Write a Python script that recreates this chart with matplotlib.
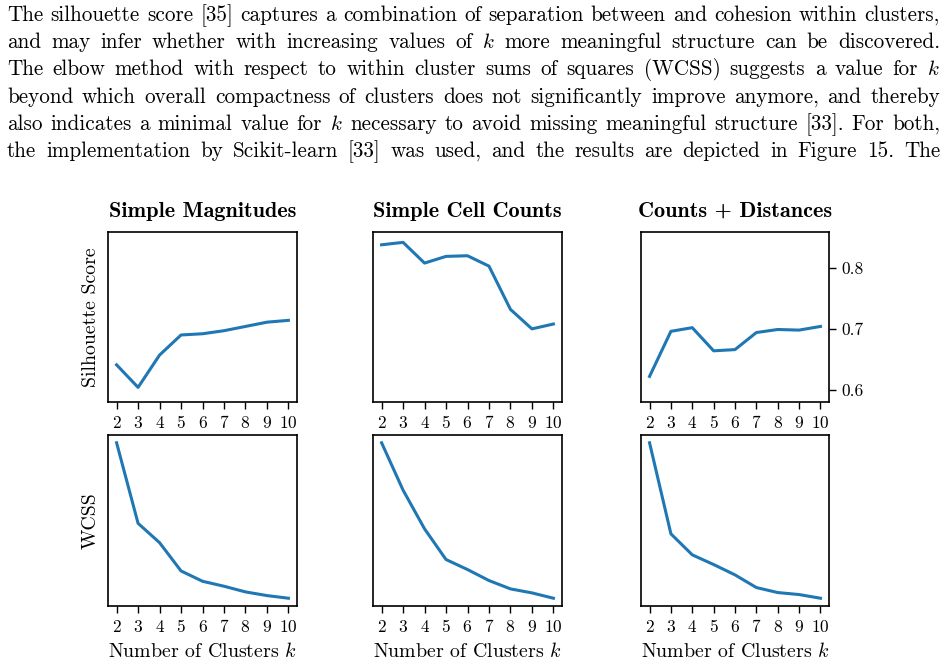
import matplotlib
matplotlib.use("Agg")
import matplotlib.pyplot as plt

plt.rcParams['font.family'] = ['cmr10']
plt.rcParams['mathtext.fontset'] = 'cm'
plt.rcParams['axes.formatter.use_mathtext'] = True

# data
k = [2, 3, 4, 5, 6, 7, 8, 9, 10]
titles = ["Simple Magnitudes", "Simple Cell Counts", "Counts + Distances"]
sil_magnitudes = [0.641, 0.604, 0.657, 0.690, 0.692, 0.697, 0.704, 0.711, 0.714]
sil_cells = [0.838, 0.842, 0.808, 0.819, 0.820, 0.803, 0.732, 0.700, 0.708]
sil_distances = [0.622, 0.696, 0.702, 0.664, 0.666, 0.694, 0.699, 0.698, 0.704]
wcss_magnitudes = [488, 246, 188, 103, 72, 57, 40, 29, 21]
wcss_cells = [488, 346, 230, 138, 108, 75, 50, 38, 22]
wcss_distances = [488, 215, 152, 123, 92, 54, 39, 33, 22]
sil_ticks = [0.6, 0.7, 0.8]

paragraph = [
    "The silhouette score [35] captures a combination of separation between and cohesion within clusters,",
    "and may infer whether with increasing values of $k$ more meaningful structure can be discovered.",
    "The elbow method with respect to within cluster sums of squares (WCSS) suggests a value for $k$",
    "beyond which overall compactness of clusters does not significantly improve anymore, and thereby",
    "also indicates a minimal value for $k$ necessary to avoid missing meaningful structure [33]. For both,",
    "the implementation by Scikit-learn [33] was used, and the results are depicted in Figure 15.  The",
]

W, H = 947, 664
fig = plt.figure(figsize=(W / 100, H / 100), dpi=100)


def rect(x0, y0, x1, y1):
    return [x0 / W, 1 - y1 / H, (x1 - x0) / W, (y1 - y0) / H]


# justified paragraph text, size picked so the longest line fits with normal spaces
renderer = fig.canvas.get_renderer()
probe = [fig.text(0, 0, l, fontsize=10) for l in paragraph]
natural = max(t.get_window_extent(renderer).width for t in probe)
for t in probe:
    t.remove()
size = 10 * 931 / natural

for i, line in enumerate(paragraph):
    base = 21 + i * 27.2
    words = line.split()
    texts = [fig.text(0, 1 - base / H, w, fontsize=size, va='baseline') for w in words]
    widths = [t.get_window_extent(renderer).width for t in texts]
    gap = (940 - 7 - sum(widths)) / (len(words) - 1)
    x = 7
    for t, w in zip(texts, widths):
        t.set_x(x / W)
        x += w + gap

cols = [(108, 297), (373, 562), (641, 829)]
top_rows = [sil_magnitudes, sil_cells, sil_distances]
bot_rows = [wcss_magnitudes, wcss_cells, wcss_distances]

for j, (x0, x1) in enumerate(cols):
    ax1 = fig.add_axes(rect(x0, 232, x1, 402))
    ax2 = fig.add_axes(rect(x0, 435, x1, 606))
    ax1.plot(k, top_rows[j], color='#1f77b4', lw=2.2)
    ax2.plot(k, bot_rows[j], color='#1f77b4', lw=2.2)
    ax1.set_ylim(0.580, 0.859)
    ax1.set_title(titles[j], fontsize=16, fontfamily='cmb10', pad=11)
    for ax in (ax1, ax2):
        ax.set_xticks(k)
        ax.set_xlim(1.6, 10.4)
        ax.tick_params(axis='x', direction='out', length=5, width=1, labelsize=12.5, pad=4)
        ax.set_yticks([])
        for s in ax.spines.values():
            s.set_linewidth(1.2)
    ax2.set_xlabel("Number of Clusters $k$", fontsize=14.3, labelpad=5)
    if j == 0:
        ax1.set_ylabel("Silhouette Score", fontsize=14.3, labelpad=6)
        ax2.set_ylabel("WCSS", fontsize=14.3, labelpad=6)
    if j == 2:
        ax1.yaxis.tick_right()
        ax1.set_yticks(sil_ticks)
        ax1.set_yticklabels([str(v) for v in sil_ticks])
        ax1.tick_params(axis='y', direction='out', length=5, width=1, labelsize=12.5, pad=4)

fig.savefig("out.png", dpi=100)
